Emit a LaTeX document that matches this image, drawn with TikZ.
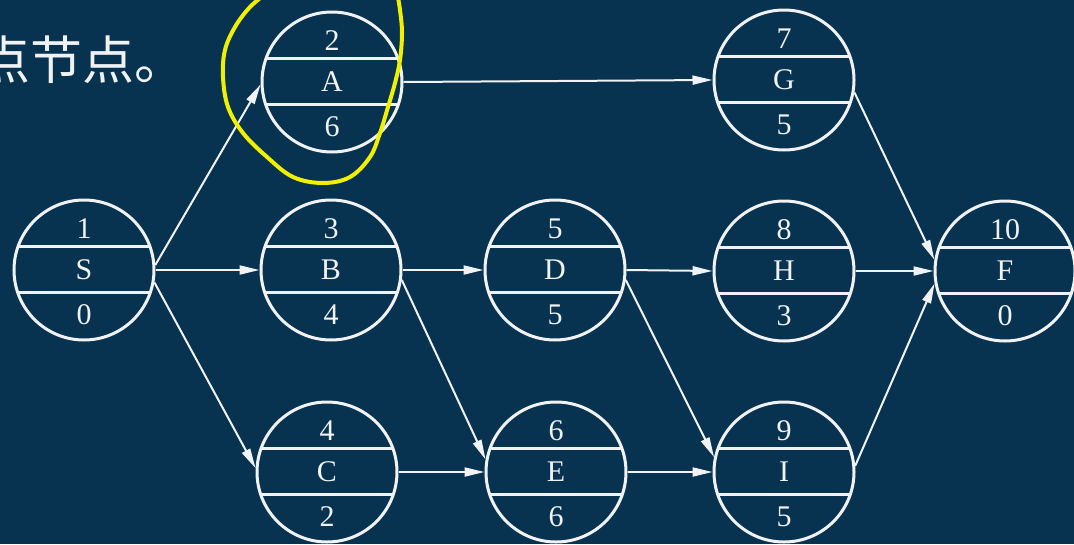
\documentclass[tikz,border=0pt]{standalone}
\usepackage{fontspec}
\setmainfont{Liberation Serif}
\newfontfamily\cjk{Noto Sans CJK SC}
\usetikzlibrary{arrows.meta}
\definecolor{bg}{RGB}{8,51,80}
\definecolor{ln}{RGB}{240,242,244}
\definecolor{hl}{RGB}{240,240,0}
\tikzset{
  pn/.style={circle, draw=ln, line width=3pt, minimum size=140pt, inner sep=0pt},
  sep/.style={draw=ln, line width=3pt},
  txt/.style={text=ln, inner sep=0pt, font=\fontsize{30}{31}\selectfont},
  edge/.style={draw=ln, line width=2pt, -{Triangle[length=20pt,width=9pt]}},
}
\newcommand{\pnet}[6]{%
  \node[pn] (#1) at (#2,#3) {};
  \draw[sep] ([shift={(-65.8,-24)}]#1.center) -- ([shift={(65.8,-24)}]#1.center);
  \draw[sep] ([shift={(-66.4,22)}]#1.center) -- ([shift={(66.4,22)}]#1.center);
  \node[txt] (#1-t) at ([shift={(0,-41)}]#1.center) {#4};
  \node[txt] (#1-m) at ([shift={(0,0)}]#1.center) {#5};
  \node[txt] (#1-b) at ([shift={(0,45)}]#1.center) {#6};
}
\begin{document}
\begin{tikzpicture}[x=1pt,y=-1pt]
\useasboundingbox[fill=bg] (0,0) rectangle (1074,544);
\node[anchor=west, inner sep=0pt, text=ln, font=\cjk\fontsize{52}{52}\selectfont] (title) at (-22,60) {点节点。};
\pnet{S}{84}{270}{1}{S}{0}
\pnet{A}{332}{82}{2}{A}{6}
\pnet{B}{331}{270}{3}{B}{4}
\pnet{C}{327}{472}{4}{C}{2}
\pnet{D}{555}{270}{5}{D}{5}
\pnet{E}{556}{472}{6}{E}{6}
\pnet{G}{784}{80}{7}{G}{5}
\pnet{H}{784}{271}{8}{H}{3}
\pnet{I}{784}{472}{9}{I}{5}
\pnet{F}{1005}{271}{10}{F}{0}
\draw[edge] (S.4) -- (A.182);
\draw[edge] (S.east) -- (B.west);
\draw[edge] (S.-10) -- (C.177);
\draw[edge] (A.east) -- (G.west);
\draw[edge] (B.east) -- (D.west);
\draw[edge] (B.-8) -- (E.170);
\draw[edge] (C.east) -- (E.west);
\draw[edge] (D.east) -- (H.west);
\draw[edge] (D.-8) -- (I.168);
\draw[edge] (E.east) -- (I.west);
\draw[edge] (G.-10) -- (F.171);
\draw[edge] (H.east) -- (F.west);
\draw[edge] (I.5) -- (F.190);
\draw[hl, line width=4pt, line cap=round] plot[smooth, tension=0.6] coordinates {
  (268,-8) (250,7) (235,27) (225,50) (223,77) (228,107) (243,133) (267,157)
  (293,177) (323,183) (350,177) (370,157) (380,133) (388,107) (395,83)
  (400,60) (402,33) (400,10) (397,-8)};
\end{tikzpicture}
\end{document}
